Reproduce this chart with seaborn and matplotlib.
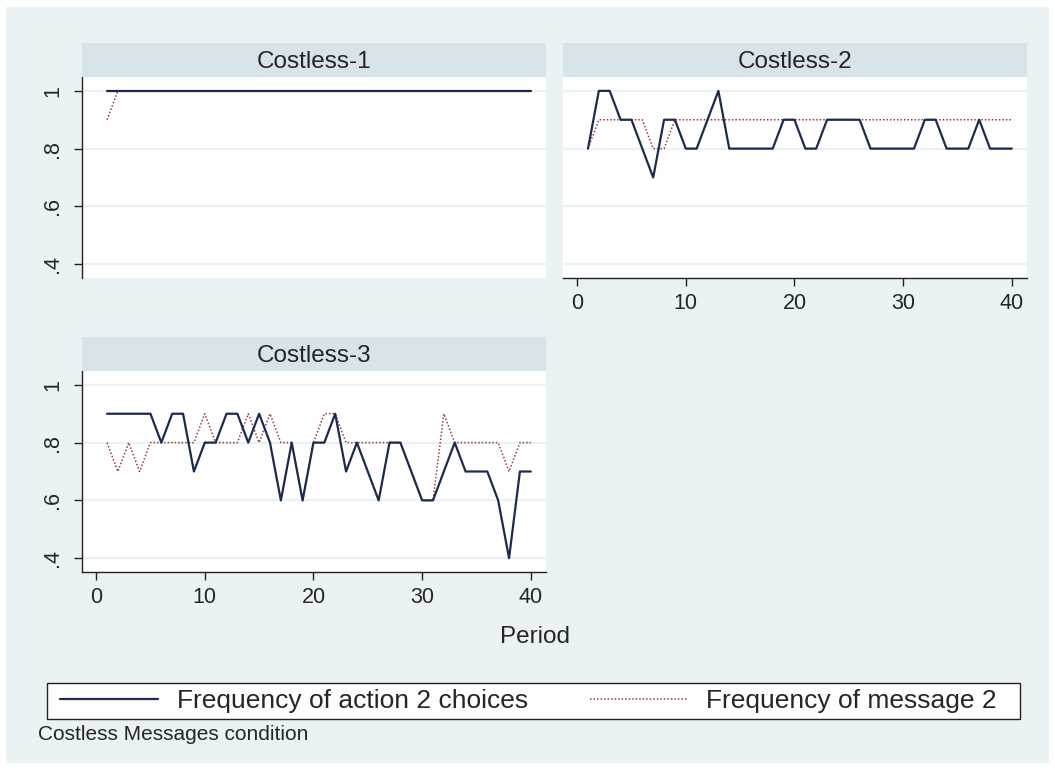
import matplotlib
matplotlib.use("Agg")
import matplotlib.pyplot as plt
import seaborn as sns
import pandas as pd
from matplotlib.lines import Line2D
from matplotlib.patches import Rectangle

# data
periods = list(range(1, 41))

c1_action = [1.0, 1.0, 1.0, 1.0, 1.0, 1.0, 1.0, 1.0, 1.0, 1.0,
             1.0, 1.0, 1.0, 1.0, 1.0, 1.0, 1.0, 1.0, 1.0, 1.0,
             1.0, 1.0, 1.0, 1.0, 1.0, 1.0, 1.0, 1.0, 1.0, 1.0,
             1.0, 1.0, 1.0, 1.0, 1.0, 1.0, 1.0, 1.0, 1.0, 1.0]
c1_message = [0.9, 1.0, 1.0, 1.0, 1.0, 1.0, 1.0, 1.0, 1.0, 1.0,
              1.0, 1.0, 1.0, 1.0, 1.0, 1.0, 1.0, 1.0, 1.0, 1.0,
              1.0, 1.0, 1.0, 1.0, 1.0, 1.0, 1.0, 1.0, 1.0, 1.0,
              1.0, 1.0, 1.0, 1.0, 1.0, 1.0, 1.0, 1.0, 1.0, 1.0]

c2_action = [0.8, 1.0, 1.0, 0.9, 0.9, 0.8, 0.7, 0.9, 0.9, 0.8,
             0.8, 0.9, 1.0, 0.8, 0.8, 0.8, 0.8, 0.8, 0.9, 0.9,
             0.8, 0.8, 0.9, 0.9, 0.9, 0.9, 0.8, 0.8, 0.8, 0.8,
             0.8, 0.9, 0.9, 0.8, 0.8, 0.8, 0.9, 0.8, 0.8, 0.8]
c2_message = [0.8, 0.9, 0.9, 0.9, 0.9, 0.9, 0.8, 0.8, 0.9, 0.9,
              0.9, 0.9, 0.9, 0.9, 0.9, 0.9, 0.9, 0.9, 0.9, 0.9,
              0.9, 0.9, 0.9, 0.9, 0.9, 0.9, 0.9, 0.9, 0.9, 0.9,
              0.9, 0.9, 0.9, 0.9, 0.9, 0.9, 0.9, 0.9, 0.9, 0.9]

c3_action = [0.9, 0.9, 0.9, 0.9, 0.9, 0.8, 0.9, 0.9, 0.7, 0.8,
             0.8, 0.9, 0.9, 0.8, 0.9, 0.8, 0.6, 0.8, 0.6, 0.8,
             0.8, 0.9, 0.7, 0.8, 0.7, 0.6, 0.8, 0.8, 0.7, 0.6,
             0.6, 0.7, 0.8, 0.7, 0.7, 0.7, 0.6, 0.4, 0.7, 0.7]
c3_message = [0.8, 0.7, 0.8, 0.7, 0.8, 0.8, 0.8, 0.8, 0.8, 0.9,
              0.8, 0.8, 0.8, 0.9, 0.8, 0.9, 0.8, 0.8, 0.6, 0.8,
              0.9, 0.9, 0.8, 0.8, 0.8, 0.8, 0.8, 0.8, 0.7, 0.6,
              0.6, 0.9, 0.8, 0.8, 0.8, 0.8, 0.8, 0.7, 0.8, 0.8]

panel_names = ["Costless-1", "Costless-2", "Costless-3"]
series_names = ["Frequency of action 2 choices", "Frequency of message 2"]
y_ticks = [0.4, 0.6, 0.8, 1.0]
y_ticklabels = [".4", ".6", ".8", "1"]
x_ticks = [0, 10, 20, 30, 40]

rows = []
for name, act, msg in zip(panel_names, [c1_action, c2_action, c3_action],
                          [c1_message, c2_message, c3_message]):
    for p, a, m in zip(periods, act, msg):
        rows.append((name, p, series_names[0], a))
        rows.append((name, p, series_names[1], m))
df = pd.DataFrame(rows, columns=["panel", "period", "series", "value"])

navy = "#1C2A4F"
maroon = "#9A3B40"
bg = "#EAF2F3"
strip = "#D7E4EA"
dots = (0, (1, 1.3))

sns.set_style("white")
plt.rcParams["font.family"] = ["Liberation Sans", "DejaVu Sans"]

W, H = 1055, 770
fig = plt.figure(figsize=(W / 100, H / 100), dpi=100, facecolor="white")
fig.patches.append(Rectangle((6 / W, 7 / H), 1 - 12 / W, 1 - 14 / H,
                             transform=fig.transFigure, facecolor=bg,
                             edgecolor="none", zorder=-10))


def px_axes(left, top, right, bottom):
    return fig.add_axes([left / W, 1 - bottom / H, (right - left) / W, (bottom - top) / H])


boxes = {"Costless-1": (82, 77, 546, 278),
         "Costless-2": (563, 77, 1027, 278),
         "Costless-3": (82, 371, 546, 572)}

for name in panel_names:
    l, t, r, b = boxes[name]
    ax = px_axes(l, t, r, b)
    ax.set_facecolor("white")
    sub = df[df.panel == name]
    for y in y_ticks:
        ax.axhline(y, color=bg, lw=1.6, zorder=0)
    sns.lineplot(data=sub[sub.series == series_names[1]], x="period", y="value",
                 ax=ax, color=maroon, lw=1.1, linestyle=dots, legend=False)
    sns.lineplot(data=sub[sub.series == series_names[0]], x="period", y="value",
                 ax=ax, color=navy, lw=1.6, legend=False)
    ax.set_xlim(-1.3, 41.4)
    ax.set_ylim(0.352, 1.048)
    ax.set_xlabel("")
    ax.set_ylabel("")
    for s in ax.spines.values():
        s.set_visible(False)
    ax.set_yticks(y_ticks)
    ax.set_xticks(x_ticks)
    if name != "Costless-2":
        ax.spines["left"].set_visible(True)
        ax.spines["left"].set_color("#222222")
        ax.spines["left"].set_linewidth(1.0)
        ax.set_yticklabels(y_ticklabels, rotation=90, va="center")
        ax.tick_params(axis="y", length=5.5, width=1, color="#222222",
                       labelsize=15.5, pad=8, left=True)
    else:
        ax.tick_params(axis="y", left=False, labelleft=False)
    if name != "Costless-1":
        ax.spines["bottom"].set_visible(True)
        ax.spines["bottom"].set_color("#222222")
        ax.spines["bottom"].set_linewidth(1.0)
        ax.tick_params(axis="x", length=5.5, width=1, color="#222222",
                       labelsize=15.5, pad=5, bottom=True)
    else:
        ax.tick_params(axis="x", bottom=False, labelbottom=False)
    # strip header
    sax = px_axes(l, t - 34, r, t)
    sax.set_facecolor(strip)
    sax.set_xticks([])
    sax.set_yticks([])
    for s in sax.spines.values():
        s.set_visible(False)
    sax.text(0.5, 0.45, name, ha="center", va="center", fontsize=17.5)

fig.text(535 / W, 1 - 637 / H, "Period", ha="center", va="center", fontsize=17.5)

# legend frame drawn separately, entries laid out inside it
fig.patches.append(Rectangle((47 / W, 1 - 719 / H), 973 / W, 36 / H,
                             transform=fig.transFigure, facecolor="white",
                             edgecolor="#222222", lw=1.0, zorder=1))
handles = [Line2D([], [], color=navy, lw=1.6),
           Line2D([], [], color=maroon, lw=1.1, linestyle=dots)]
leg = fig.legend(handles, series_names, loc="center",
                 bbox_to_anchor=(60 / W, 1 - 719 / H, 937 / W, 36 / H),
                 mode="expand", ncol=2, fontsize=19, handlelength=3.7,
                 handletextpad=0.72, frameon=False,
                 borderaxespad=0, borderpad=0, columnspacing=2)

fig.text(38 / W, 1 - 734 / H, "Costless Messages condition", ha="left",
         va="center", fontsize=15)

fig.savefig("out.png", dpi=100, facecolor="white")
